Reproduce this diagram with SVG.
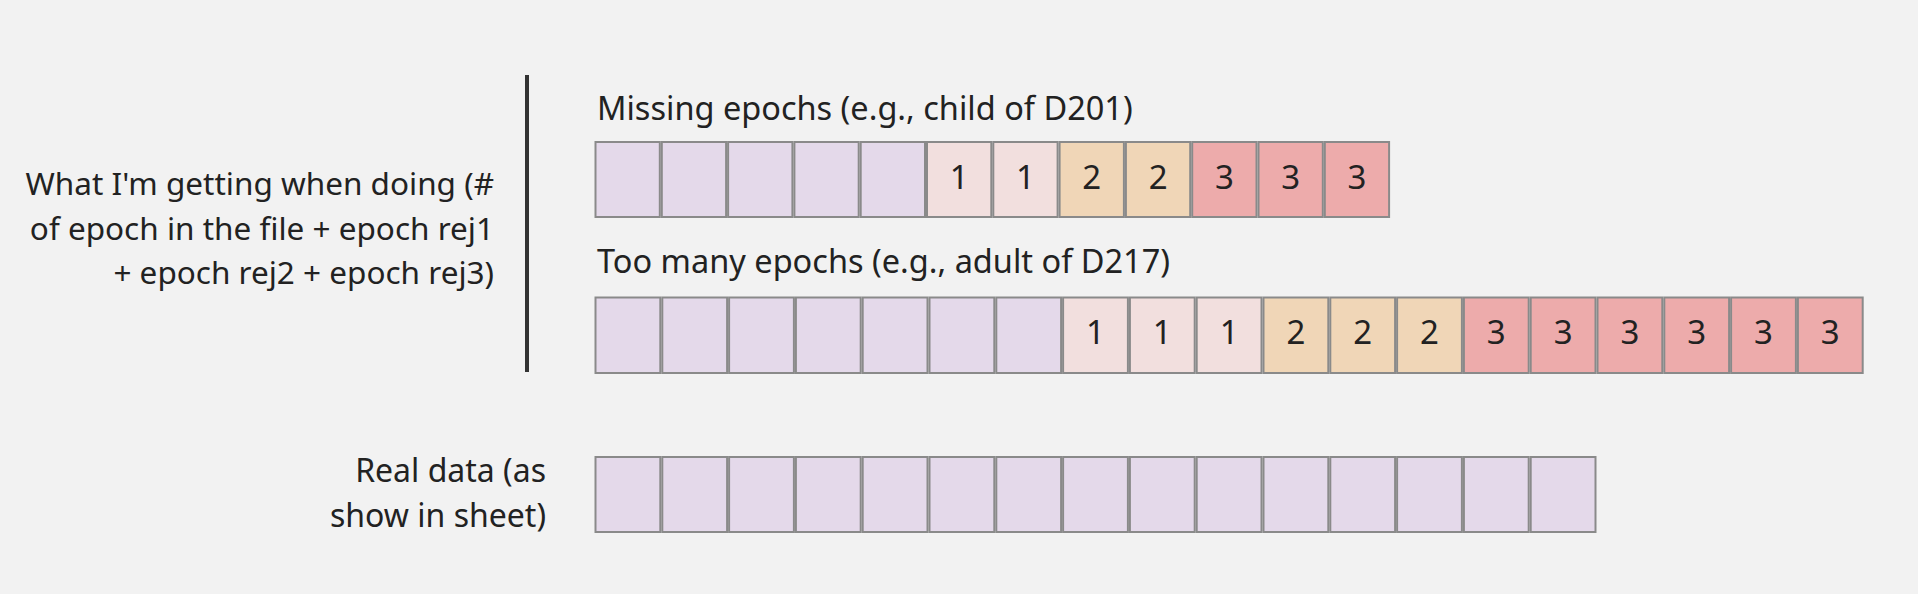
<svg xmlns="http://www.w3.org/2000/svg" width="1918" height="594" viewBox="0 0 1918 594">
<style>
text{font-family:"Noto Sans","Open Sans","Liberation Sans",sans-serif;font-size:32px;fill:#222}
.l{font-size:31.5px}
.t{font-size:32.5px}
.r{text-anchor:end}
.n{text-anchor:middle;font-size:33px}
rect.c{stroke:#8a8a8a;stroke-width:2}
.p{fill:#e4d9ea}.a{fill:#f2dfde}.b{fill:#f0d6b7}.d{fill:#edabab}
</style>
<rect width="1918" height="594" fill="#f2f2f2"/>
<g id="connectors">
<line x1="527" y1="75" x2="527" y2="372" stroke="#333" stroke-width="4"/>
</g>
<g id="label-left">
<text class="r l" x="494" y="195">What I'm getting when doing (#</text>
<text class="r l" x="494" y="240">of epoch in the file + epoch rej1</text>
<text class="r l" x="494" y="284">+ epoch rej2 + epoch rej3)</text>
</g>
<g id="label-real">
<text class="r" x="546" y="482">Real data (as</text>
<text class="r" x="546" y="527">show in sheet)</text>
</g>
<g id="row-missing">
<text class="t" x="597" y="120">Missing epochs (e.g., child of D201)</text>
<rect class="c p" x="595.5" y="142" width="64.3" height="75"/>
<rect class="c p" x="661.8" y="142" width="64.3" height="75"/>
<rect class="c p" x="728.1" y="142" width="64.3" height="75"/>
<rect class="c p" x="794.4" y="142" width="64.3" height="75"/>
<rect class="c p" x="860.7" y="142" width="64.3" height="75"/>
<rect class="c a" x="927.0" y="142" width="64.3" height="75"/>
<rect class="c a" x="993.3" y="142" width="64.3" height="75"/>
<rect class="c b" x="1059.6" y="142" width="64.3" height="75"/>
<rect class="c b" x="1125.9" y="142" width="64.3" height="75"/>
<rect class="c d" x="1192.2" y="142" width="64.3" height="75"/>
<rect class="c d" x="1258.5" y="142" width="64.3" height="75"/>
<rect class="c d" x="1324.8" y="142" width="64.3" height="75"/>
<text class="n" x="959.2" y="189">1</text>
<text class="n" x="1025.5" y="189">1</text>
<text class="n" x="1091.8" y="189">2</text>
<text class="n" x="1158.1" y="189">2</text>
<text class="n" x="1224.4" y="189">3</text>
<text class="n" x="1290.7" y="189">3</text>
<text class="n" x="1357.0" y="189">3</text>
</g>
<g id="row-toomany">
<text class="t" x="597" y="273">Too many epochs (e.g., adult of D217)</text>
<rect class="c p" x="595.5" y="297.5" width="64.8" height="75.5"/>
<rect class="c p" x="662.3" y="297.5" width="64.8" height="75.5"/>
<rect class="c p" x="729.1" y="297.5" width="64.8" height="75.5"/>
<rect class="c p" x="795.9" y="297.5" width="64.8" height="75.5"/>
<rect class="c p" x="862.7" y="297.5" width="64.8" height="75.5"/>
<rect class="c p" x="929.5" y="297.5" width="64.8" height="75.5"/>
<rect class="c p" x="996.3" y="297.5" width="64.8" height="75.5"/>
<rect class="c a" x="1063.1" y="297.5" width="64.8" height="75.5"/>
<rect class="c a" x="1129.9" y="297.5" width="64.8" height="75.5"/>
<rect class="c a" x="1196.7" y="297.5" width="64.8" height="75.5"/>
<rect class="c b" x="1263.5" y="297.5" width="64.8" height="75.5"/>
<rect class="c b" x="1330.3" y="297.5" width="64.8" height="75.5"/>
<rect class="c b" x="1397.1" y="297.5" width="64.8" height="75.5"/>
<rect class="c d" x="1463.9" y="297.5" width="64.8" height="75.5"/>
<rect class="c d" x="1530.7" y="297.5" width="64.8" height="75.5"/>
<rect class="c d" x="1597.5" y="297.5" width="64.8" height="75.5"/>
<rect class="c d" x="1664.3" y="297.5" width="64.8" height="75.5"/>
<rect class="c d" x="1731.1" y="297.5" width="64.8" height="75.5"/>
<rect class="c d" x="1797.9" y="297.5" width="64.8" height="75.5"/>
<text class="n" x="1095.5" y="344">1</text>
<text class="n" x="1162.3" y="344">1</text>
<text class="n" x="1229.1" y="344">1</text>
<text class="n" x="1295.9" y="344">2</text>
<text class="n" x="1362.7" y="344">2</text>
<text class="n" x="1429.5" y="344">2</text>
<text class="n" x="1496.3" y="344">3</text>
<text class="n" x="1563.1" y="344">3</text>
<text class="n" x="1629.9" y="344">3</text>
<text class="n" x="1696.7" y="344">3</text>
<text class="n" x="1763.5" y="344">3</text>
<text class="n" x="1830.3" y="344">3</text>
</g>
<g id="row-real">
<rect class="c p" x="595.5" y="457" width="64.8" height="75"/>
<rect class="c p" x="662.3" y="457" width="64.8" height="75"/>
<rect class="c p" x="729.1" y="457" width="64.8" height="75"/>
<rect class="c p" x="795.9" y="457" width="64.8" height="75"/>
<rect class="c p" x="862.7" y="457" width="64.8" height="75"/>
<rect class="c p" x="929.5" y="457" width="64.8" height="75"/>
<rect class="c p" x="996.3" y="457" width="64.8" height="75"/>
<rect class="c p" x="1063.1" y="457" width="64.8" height="75"/>
<rect class="c p" x="1129.9" y="457" width="64.8" height="75"/>
<rect class="c p" x="1196.7" y="457" width="64.8" height="75"/>
<rect class="c p" x="1263.5" y="457" width="64.8" height="75"/>
<rect class="c p" x="1330.3" y="457" width="64.8" height="75"/>
<rect class="c p" x="1397.1" y="457" width="64.8" height="75"/>
<rect class="c p" x="1463.9" y="457" width="64.8" height="75"/>
<rect class="c p" x="1530.7" y="457" width="64.8" height="75"/>
</g>
</svg>
